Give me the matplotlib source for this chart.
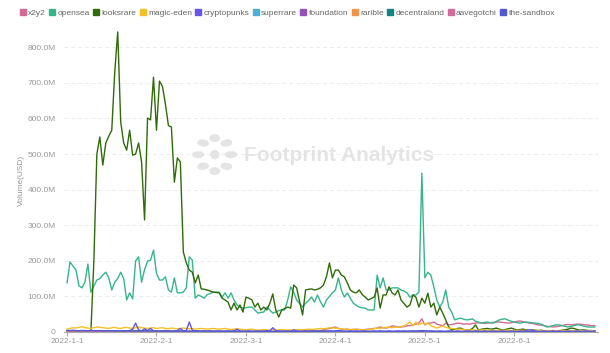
import numpy as np
import matplotlib
matplotlib.use("Agg")
import matplotlib.pyplot as plt
from matplotlib.lines import Line2D
from matplotlib.patches import Ellipse

plt.rcParams["font.family"] = ["Liberation Sans", "DejaVu Sans"]

# daily volume, million USD (category axis, one point per day)
x2y2 = [
    0, 0, 0, 0, 0, 0, 0, 0, 0, 0,
    0, 0, 0, 0, 0, 0, 0, 0, 0, 0,
    0, 0, 0, 0, 0, 0, 0, 0, 0, 0,
    0, 0, 0, 0, 0, 0, 0, 0, 0, 0,
    0, 0, 0, 0, 0, 1, 2, 1, 2, 1,
    2, 1, 2, 2, 1, 2, 1, 2, 2, 1,
    2, 2, 1, 2, 2, 3, 2, 2, 3, 2,
    2, 3, 2, 3, 3, 2, 3, 3, 2, 3,
    3, 3, 4, 3, 3, 4, 6, 8, 10, 12,
    14, 10, 8, 7, 8, 6, 7, 8, 7, 6,
    7, 8, 9, 10, 11, 14, 12, 11, 13, 17,
    16, 14, 14, 15, 17, 18, 20, 22, 25, 37,
    20, 25, 25, 28, 22, 20, 17, 25, 20, 21,
    23, 25, 24, 22, 23, 22, 24, 25, 26, 25,
    24, 25, 26, 27, 28, 28, 27, 26, 25, 26,
    28, 30, 31, 29, 27, 25, 24, 22, 20, 19,
    18, 16, 15, 14, 15, 16, 18, 20, 21, 20,
    21, 22, 22, 21, 20, 19, 18, 18,
]
opensea = [
    138, 197, 185, 174, 130, 124, 140, 191, 112, 130,
    146, 150, 160, 168, 152, 118, 140, 150, 168, 150,
    90, 110, 93, 200, 211, 140, 175, 199, 202, 230,
    165, 146, 146, 155, 118, 112, 152, 110, 110, 112,
    124, 211, 202, 95, 104, 100, 95, 105, 108, 112,
    112, 112, 98, 110, 95, 110, 90, 76, 70, 67,
    68, 70, 70, 62, 53, 55, 56, 70, 62, 53,
    56, 60, 62, 62, 90, 127, 112, 90, 80, 70,
    81, 88, 98, 84, 104, 85, 70, 90, 100, 110,
    118, 152, 118, 98, 110, 95, 81, 75, 70, 68,
    67, 62, 62, 62, 160, 124, 152, 118, 118, 124,
    124, 124, 118, 115, 110, 98, 104, 104, 112, 446,
    152, 168, 160, 127, 90, 70, 84, 118, 70, 56,
    34, 37, 39, 36, 34, 35, 37, 30, 28, 25,
    27, 28, 26, 25, 30, 34, 36, 37, 33, 30,
    28, 26, 25, 27, 28, 27, 26, 25, 24, 22,
    18, 14, 16, 18, 20, 20, 18, 16, 14, 16,
    18, 20, 20, 17, 15, 14, 14, 14,
]
looksrare = [
    0, 0, 0, 0, 0, 0, 0, 0, 0,
    200, 500, 548, 469, 531, 550, 567, 730, 843, 590, 531,
    511, 567, 497, 500, 531, 478, 315, 601, 596, 716,
    567, 705, 690, 640, 580, 576, 421, 489, 478, 225,
    194, 174, 168, 138, 160, 121, 120, 118, 115, 112,
    111, 110, 95, 90, 84, 62, 81, 62, 76, 56,
    98, 95, 90, 70, 81, 62, 70, 62, 80, 107,
    62, 42, 62, 66, 70, 67, 132, 124, 85, 48,
    118, 120, 121, 118, 120, 124, 132, 155, 194, 152,
    174, 174, 160, 155, 138, 118, 112, 110, 118, 105,
    98, 90, 94, 98, 124, 67, 104, 104, 127, 110,
    104, 118, 90, 80, 70, 76, 104, 98, 70, 95,
    81, 109, 70, 81, 48, 70, 53, 34, 14, 5,
    8, 10, 11, 7, 6, 5, 10, 20, 5, 8,
    9, 10, 8, 9, 11, 8, 5, 7, 9, 11,
    8, 6, 7, 8, 6, 5, 6, 5, 4, 5,
    3, 4, 3, 4, 3, 3, 5, 6, 8, 11,
    10, 7, 5, 6, 5, 4, 4, 3,
]
magic_eden = [
    8, 10, 12, 11, 13, 15, 12, 11, 10, 12,
    14, 13, 12, 11, 10, 12, 13, 11, 10, 12,
    13, 11, 10, 12, 14, 12, 11, 10, 11, 12,
    10, 11, 12, 10, 9, 11, 10, 9, 10, 11,
    10, 9, 10, 8, 9, 10, 9, 8, 9, 10,
    9, 8, 9, 10, 8, 7, 8, 9, 8, 7,
    6, 7, 8, 6, 5, 6, 7, 6, 5, 6,
    5, 6, 7, 6, 5, 6, 5, 6, 7, 6,
    7, 8, 7, 8, 9, 10, 9, 10, 12, 11,
    11, 10, 9, 8, 8, 7, 8, 6, 7, 6,
    6, 7, 8, 9, 11, 10, 12, 13, 14, 12,
    14, 13, 15, 17, 22, 28, 17, 28, 20, 25,
    22, 25, 18, 14, 11, 14, 17, 13, 11, 10,
    9, 8, 8, 7, 6, 5, 6, 5, 5, 6,
    5, 6, 5, 4, 5, 5, 4, 5, 5, 4,
    4, 5, 5, 4, 5, 4, 4, 5, 4, 4,
    3, 4, 4, 3, 4, 3, 4, 4, 3, 4,
    3, 4, 3, 4, 3, 3, 4, 3,
]
cryptopunks = [
    3, 2, 3, 2, 2, 3, 2, 2, 3, 2,
    2, 3, 2, 2, 3, 2, 3, 2, 2, 3,
    3, 4, 8, 25, 6, 3, 9, 4, 10, 3,
    3, 2, 3, 4, 3, 2, 3, 4, 10, 3,
    4, 28, 5, 3, 3, 2, 3, 2, 3, 2,
    2, 3, 2, 2, 3, 2, 3, 8, 3, 2,
    2, 3, 2, 2, 3, 2, 2, 4, 3, 12,
    4, 3, 2, 2, 3, 2, 6, 3, 2, 2,
    3, 2, 2, 3, 2, 2, 3, 2, 3, 2,
    3, 4, 3, 2, 2, 3, 2, 3, 2, 2,
    3, 2, 2, 3, 2, 3, 2, 2, 3, 2,
    2, 3, 2, 3, 2, 2, 3, 2, 3, 4,
    3, 2, 3, 2, 2, 3, 2, 2, 3, 2,
    2, 3, 2, 2, 3, 2, 2, 3, 2, 2,
    3, 2, 2, 3, 2, 2, 3, 2, 2, 3,
    2, 2, 3, 2, 4, 6, 5, 3, 2, 2,
    3, 2, 2, 3, 2, 3, 2, 2, 3, 2,
    2, 3, 2, 2, 3, 2, 2, 3,
]
superrare = [
    1.5, 1.2, 1.0, 1.3, 1.1, 0.9, 1.4, 1.2, 1.0, 1.1,
    1.3, 1.0, 0.9, 1.2, 1.1, 1.0, 1.3, 1.2, 0.9, 1.0,
    1.1, 1.2, 1.0, 0.9, 1.1, 1.3, 1.0, 1.2, 1.1, 0.9,
    1.0, 1.1, 0.9, 1.0, 1.2, 0.8, 0.9, 1.0, 1.1, 0.9,
    0.8, 1.0, 0.9, 0.8, 1.0, 0.9, 0.7, 0.8, 0.9, 0.8,
    0.7, 0.8, 0.9, 0.7, 0.8, 0.7, 0.6, 0.8, 0.7, 0.6,
    0.7, 0.8, 0.6, 0.7, 0.6, 0.7, 0.8, 0.6, 0.7, 0.6,
    0.5, 0.7, 0.6, 0.7, 0.6, 0.5, 0.6, 0.7, 0.6, 0.5,
    0.6, 0.7, 0.6, 0.5, 0.6, 0.7, 0.6, 0.5, 0.6, 0.6,
    0.7, 0.6, 0.5, 0.6, 0.5, 0.6, 0.7, 0.5, 0.6, 0.5,
    0.6, 0.5, 0.6, 0.7, 0.5, 0.6, 0.5, 0.6, 0.5, 0.6,
    0.5, 0.6, 0.5, 0.6, 0.7, 0.6, 0.5, 0.6, 0.5, 0.6,
    0.5, 0.4, 0.5, 0.6, 0.5, 0.4, 0.5, 0.4, 0.5, 0.4,
    0.4, 0.5, 0.4, 0.3, 0.4, 0.5, 0.4, 0.3, 0.4, 0.4,
    0.3, 0.4, 0.3, 0.4, 0.3, 0.4, 0.3, 0.3, 0.4, 0.3,
    0.3, 0.4, 0.3, 0.3, 0.4, 0.3, 0.3, 0.4, 0.3, 0.3,
    0.3, 0.2, 0.3, 0.3, 0.2, 0.3, 0.3, 0.2, 0.3, 0.2,
    0.3, 0.2, 0.3, 0.2, 0.3, 0.2, 0.2, 0.3,
]
foundation = [
    1.8, 1.6, 1.9, 1.7, 1.5, 1.8, 1.6, 1.4, 1.7, 1.5,
    1.6, 1.4, 1.7, 1.5, 1.3, 1.6, 1.4, 1.5, 1.3, 1.4,
    1.5, 1.3, 1.2, 1.4, 1.3, 1.5, 1.2, 1.3, 1.4, 1.2,
    1.3, 1.1, 1.2, 1.3, 1.1, 1.2, 1.0, 1.1, 1.2, 1.0,
    1.1, 1.0, 0.9, 1.1, 1.0, 0.9, 1.0, 1.1, 0.9, 1.0,
    0.9, 0.8, 1.0, 0.9, 0.8, 0.9, 1.0, 0.8, 0.9, 0.8,
    0.8, 0.9, 0.7, 0.8, 0.9, 0.7, 0.8, 0.7, 0.8, 0.9,
    0.7, 0.8, 0.7, 0.8, 0.7, 0.8, 0.9, 0.7, 0.8, 0.7,
    0.8, 0.7, 0.8, 0.7, 0.6, 0.8, 0.7, 0.8, 0.7, 0.6,
    0.7, 0.8, 0.7, 0.6, 0.7, 0.6, 0.7, 0.8, 0.6, 0.7,
    0.6, 0.7, 0.6, 0.7, 0.6, 0.7, 0.6, 0.5, 0.6, 0.7,
    0.6, 0.5, 0.6, 0.7, 0.6, 0.5, 0.6, 0.5, 0.6, 0.7,
    0.6, 0.5, 0.6, 0.5, 0.4, 0.5, 0.6, 0.5, 0.4, 0.5,
    0.4, 0.5, 0.4, 0.5, 0.4, 0.5, 0.4, 0.4, 0.5, 0.4,
    0.4, 0.3, 0.4, 0.5, 0.4, 0.3, 0.4, 0.3, 0.4, 0.3,
    0.4, 0.3, 0.4, 0.3, 0.3, 0.4, 0.3, 0.4, 0.3, 0.3,
    0.3, 0.4, 0.3, 0.3, 0.2, 0.3, 0.3, 0.2, 0.3, 0.3,
    0.2, 0.3, 0.3, 0.2, 0.3, 0.2, 0.3, 0.2,
]
rarible = [
    0.9, 0.8, 1.0, 0.9, 0.7, 0.8, 0.9, 0.7, 0.8, 0.9,
    0.8, 0.7, 0.9, 0.8, 0.7, 0.8, 0.9, 0.7, 0.8, 0.7,
    0.8, 0.7, 0.6, 0.8, 0.7, 0.6, 0.7, 0.8, 0.6, 0.7,
    0.6, 0.7, 0.6, 0.5, 0.7, 0.6, 0.5, 0.6, 0.7, 0.5,
    0.6, 0.5, 0.6, 0.5, 0.4, 0.6, 0.5, 0.4, 0.5, 0.6,
    0.5, 0.4, 0.5, 0.4, 0.5, 0.4, 0.5, 0.4, 0.3, 0.5,
    0.4, 0.5, 0.4, 0.3, 0.4, 0.5, 0.4, 0.3, 0.4, 0.3,
    0.4, 0.3, 0.4, 0.5, 0.4, 0.3, 0.4, 0.3, 0.4, 0.3,
    0.4, 0.3, 0.4, 0.3, 0.4, 0.3, 0.4, 0.5, 0.4, 0.3,
    0.4, 0.3, 0.4, 0.3, 0.3, 0.4, 0.3, 0.4, 0.3, 0.3,
    0.4, 0.3, 0.3, 0.4, 0.3, 0.3, 0.4, 0.3, 0.3, 0.4,
    0.3, 0.3, 0.4, 0.3, 0.4, 0.3, 0.3, 0.4, 0.3, 0.4,
    0.3, 0.3, 0.2, 0.3, 0.3, 0.2, 0.3, 0.3, 0.2, 0.3,
    0.2, 0.3, 0.2, 0.3, 0.2, 0.3, 0.2, 0.2, 0.3, 0.2,
    0.2, 0.3, 0.2, 0.2, 0.3, 0.2, 0.2, 0.3, 0.2, 0.2,
    0.2, 0.3, 0.2, 0.2, 0.2, 0.3, 0.2, 0.2, 0.2, 0.3,
    0.2, 0.2, 0.2, 0.3, 0.2, 0.2, 0.2, 0.2, 0.3, 0.2,
    0.2, 0.2, 0.2, 0.3, 0.2, 0.2, 0.2, 0.2,
]
decentraland = [
    3.2, 2.8, 3.5, 2.9, 2.6, 3.1, 2.7, 2.5, 3.0, 2.6,
    2.4, 2.8, 2.5, 2.3, 2.7, 2.4, 2.2, 2.6, 2.3, 2.1,
    2.4, 2.2, 2.0, 2.3, 2.1, 1.9, 2.2, 2.0, 1.8, 2.1,
    1.9, 1.7, 2.0, 1.8, 1.6, 1.9, 1.7, 1.5, 1.8, 1.6,
    1.5, 1.7, 1.4, 1.6, 1.5, 1.3, 1.5, 1.4, 1.2, 1.4,
    1.3, 1.2, 1.4, 1.2, 1.1, 1.3, 1.2, 1.0, 1.2, 1.1,
    1.0, 1.2, 1.1, 1.0, 1.1, 0.9, 1.0, 1.1, 0.9, 1.0,
    1.1, 0.9, 1.0, 0.9, 1.1, 1.0, 0.9, 1.0, 0.9, 1.1,
    1.0, 0.9, 1.0, 1.1, 0.9, 1.0, 0.9, 1.0, 1.1, 1.0,
    0.9, 1.0, 0.9, 0.8, 1.0, 0.9, 0.8, 0.9, 1.0, 0.8,
    0.9, 0.8, 0.9, 0.8, 0.9, 1.0, 0.8, 0.9, 0.8, 0.9,
    0.8, 0.9, 0.8, 0.9, 1.0, 1.2, 1.1, 1.3, 1.4, 1.6,
    1.3, 1.1, 1.0, 0.9, 0.8, 0.9, 0.8, 0.7, 0.8, 0.7,
    0.6, 0.7, 0.6, 0.7, 0.6, 0.5, 0.6, 0.5, 0.6, 0.5,
    0.5, 0.6, 0.5, 0.4, 0.5, 0.4, 0.5, 0.4, 0.5, 0.4,
    0.4, 0.5, 0.4, 0.4, 0.5, 0.4, 0.4, 0.3, 0.4, 0.4,
    0.3, 0.4, 0.3, 0.4, 0.3, 0.4, 0.3, 0.3, 0.4, 0.3,
    0.3, 0.4, 0.3, 0.3, 0.4, 0.3, 0.3, 0.3,
]
aavegotchi = [
    0.6, 0.5, 0.7, 0.5, 0.6, 0.4, 0.5, 0.6, 0.4, 0.5,
    0.4, 0.5, 0.6, 0.4, 0.5, 0.4, 0.3, 0.5, 0.4, 0.5,
    0.4, 0.3, 0.4, 0.5, 0.3, 0.4, 0.3, 0.4, 0.5, 0.3,
    0.4, 0.3, 0.4, 0.3, 0.2, 0.4, 0.3, 0.4, 0.3, 0.2,
    0.3, 0.4, 0.3, 0.2, 0.3, 0.4, 0.3, 0.2, 0.3, 0.2,
    0.3, 0.2, 0.3, 0.4, 0.2, 0.3, 0.2, 0.3, 0.2, 0.3,
    0.2, 0.3, 0.2, 0.3, 0.2, 0.2, 0.3, 0.2, 0.3, 0.2,
    0.2, 0.3, 0.2, 0.2, 0.3, 0.2, 0.2, 0.3, 0.2, 0.2,
    0.3, 0.2, 0.2, 0.3, 0.2, 0.2, 0.3, 0.2, 0.2, 0.3,
    0.2, 0.2, 0.3, 0.2, 0.2, 0.2, 0.3, 0.2, 0.2, 0.2,
    0.3, 0.2, 0.2, 0.2, 0.3, 0.2, 0.2, 0.2, 0.3, 0.2,
    0.2, 0.2, 0.3, 0.2, 0.2, 0.2, 0.2, 0.3, 0.2, 0.2,
    0.2, 0.2, 0.3, 0.2, 0.2, 0.2, 0.2, 0.2, 0.3, 0.2,
    0.2, 0.2, 0.2, 0.2, 0.3, 0.2, 0.2, 0.2, 0.2, 0.2,
    0.2, 0.1, 0.2, 0.2, 0.2, 0.1, 0.2, 0.2, 0.1, 0.2,
    0.2, 0.1, 0.2, 0.1, 0.2, 0.2, 0.1, 0.2, 0.1, 0.2,
    0.1, 0.2, 0.1, 0.2, 0.1, 0.1, 0.2, 0.1, 0.2, 0.1,
    0.1, 0.2, 0.1, 0.1, 0.2, 0.1, 0.1, 0.2,
]
the_sandbox = [
    4.5, 4.0, 4.8, 3.9, 3.6, 4.2, 3.8, 3.4, 4.1, 3.6,
    3.3, 3.8, 3.5, 3.2, 3.6, 3.3, 3.0, 3.5, 3.1, 2.9,
    3.3, 3.0, 2.8, 3.1, 2.9, 2.7, 3.0, 2.8, 2.6, 2.9,
    2.7, 2.5, 2.8, 2.6, 2.4, 2.7, 2.5, 2.3, 2.6, 2.4,
    2.3, 2.5, 2.2, 2.4, 2.3, 2.1, 2.3, 2.2, 2.0, 2.2,
    2.1, 2.0, 2.2, 2.0, 1.9, 2.1, 2.0, 1.8, 2.0, 1.9,
    1.8, 2.0, 1.9, 1.7, 1.9, 1.8, 1.7, 1.9, 1.8, 1.6,
    1.8, 1.7, 1.6, 1.8, 1.7, 1.6, 1.8, 1.7, 1.6, 1.7,
    1.8, 1.7, 1.9, 2.0, 1.8, 2.1, 2.3, 2.2, 2.5, 2.4,
    2.3, 2.2, 2.1, 2.0, 1.9, 2.0, 1.9, 1.8, 1.9, 1.8,
    1.7, 1.8, 1.7, 1.8, 1.9, 1.8, 1.7, 1.8, 1.7, 1.6,
    1.7, 1.6, 1.7, 1.8, 1.9, 2.1, 2.0, 2.2, 2.4, 2.8,
    2.5, 2.2, 2.0, 1.9, 1.7, 1.6, 1.5, 1.4, 1.5, 1.3,
    1.2, 1.3, 1.2, 1.1, 1.2, 1.1, 1.0, 1.1, 1.0, 1.1,
    1.0, 0.9, 1.0, 0.9, 1.0, 0.9, 0.8, 0.9, 0.8, 0.9,
    0.8, 0.9, 0.8, 0.7, 0.8, 0.7, 0.8, 0.7, 0.8, 0.7,
    0.7, 0.8, 0.7, 0.7, 0.6, 0.7, 0.6, 0.7, 0.6, 0.7,
    0.6, 0.7, 0.6, 0.6, 0.7, 0.6, 0.6, 0.6,
]

series = [
    ("x2y2", x2y2, "#d46a93"),
    ("opensea", opensea, "#36b58b"),
    ("looksrare", looksrare, "#2f6b07"),
    ("magic-eden", magic_eden, "#f4c025"),
    ("cryptopunks", cryptopunks, "#6656e6"),
    ("superrare", superrare, "#4bafd6"),
    ("foundation", foundation, "#9153b8"),
    ("rarible", rarible, "#f2944a"),
    ("decentraland", decentraland, "#11857e"),
    ("aavegotchi", aavegotchi, "#d16c9a"),
    ("the-sandbox", the_sandbox, "#5457d1"),
]

tick_pos = [0, 30, 60, 90, 120, 150]
tick_labels = ["2022-1-1", "2022-2-1", "2022-3-1", "2022-4-1", "2022-5-1", "2022-6-1"]
y_ticks = [0, 100, 200, 300, 400, 500, 600, 700, 800]

fig = plt.figure(figsize=(6.1, 3.53), dpi=100)
ax = fig.add_axes([0.105, 0.0595, 0.875, 0.857])

for name, vals, color in series:
    xs = np.arange(len(vals))
    ax.plot(xs, vals, color=color, lw=1.0)

ax.set_xlim(-1, 178)
ax.set_ylim(0, 850)
ax.set_yticks(y_ticks)
ax.set_yticklabels(["0" if v == 0 else f"{v:.1f}M" for v in y_ticks])
ax.set_xticks(tick_pos)
ax.set_xticklabels(tick_labels)
ax.tick_params(axis="y", length=0, labelsize=6, labelcolor="#999999", pad=6)
ax.tick_params(axis="x", length=3, color="#aaaaaa", labelsize=6,
               labelcolor="#999999", pad=1.5)
for v in y_ticks[1:]:
    ax.axhline(v, color="#ececec", lw=0.7, ls=(0, (4, 3)), zorder=0)
for s in ("top", "right", "left"):
    ax.spines[s].set_visible(False)
ax.spines["bottom"].set_color("#aaaaaa")
ax.spines["bottom"].set_linewidth(0.8)
ax.set_ylabel("Volume(USD)", fontsize=6, color="#999999", labelpad=2)

# watermark
fig.text(0.40, 0.56, "Footprint Analytics", fontsize=15, fontweight="bold",
         color="#e4e4e4", ha="left", va="center", zorder=0)
cx, cy = 0.352, 0.562
asp = 610 / 353
for k in range(8):
    a = np.pi / 4 * k
    r = 0.027
    fig.patches.append(Ellipse((cx + r * np.cos(a), cy + r * np.sin(a) * asp),
                               0.018, 0.009 * asp,
                               angle=np.degrees(a), transform=fig.transFigure,
                               color="#e4e4e4", zorder=0))
fig.patches.append(Ellipse((cx, cy), 0.013, 0.013 * asp,
                           transform=fig.transFigure, color="#e4e4e4", zorder=0))

handles = [Line2D([], [], marker="s", ls="none", markersize=4.5, color=c)
           for _, _, c in series]
fig.legend(handles, [n for n, _, _ in series], loc="upper left",
           bbox_to_anchor=(0.018, 0.995), ncol=11, frameon=False, fontsize=6,
           handletextpad=0.15, columnspacing=0.25, labelcolor="#666666",
           handlelength=1.0)

fig.savefig("out.png", dpi=100)
